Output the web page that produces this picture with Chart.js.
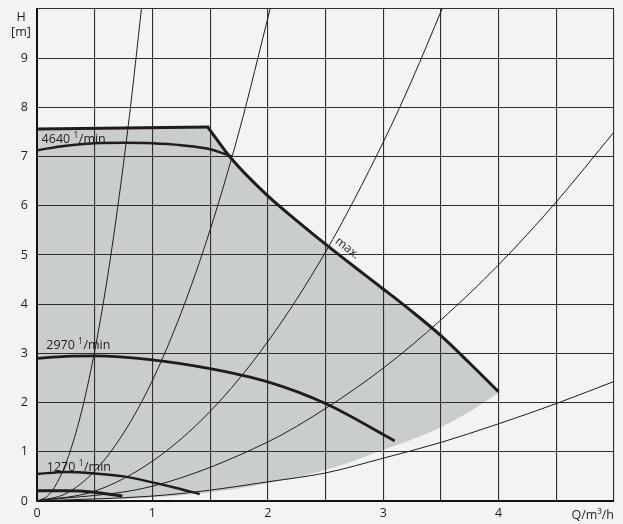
<!DOCTYPE html>
<html>
<head>
<meta charset="utf-8">
<script src="https://cdn.jsdelivr.net/npm/chart.js@4/dist/chart.umd.min.js"></script>
<style>
  html, body { margin: 0; padding: 0; background: #f2f3f3; }
  #c { display: block; background: #f2f3f3; }
</style>
</head>
<body>
<canvas id="c" width="623" height="524"></canvas>
<script>
/* Pumpenkennlinie H(Q) */

// Achsen
const qTicks = [0, 1, 2, 3, 4];
const hTicks = [0, 1, 2, 3, 4, 5, 6, 7, 8, 9];

// Grauer Bereich: Oberkante (max.) und Unterkante
const areaQ = [0, 0.5, 1.0, 1.48, 1.68, 2.0, 2.25, 2.5, 2.75, 3.0, 3.25, 3.5, 3.75, 4.0];
const areaTopH = [7.56, 7.57, 7.58, 7.6, 6.97, 6.2, 5.7, 5.22, 4.76, 4.31, 3.85, 3.36, 2.8, 2.22];
const areaLowH = [0, 0.02, 0.07, 0.17, 0.23, 0.36, 0.48, 0.63, 0.82, 1.04, 1.25, 1.5, 1.82, 2.2];

// max. Kennlinie: waagerechter Teil und abfallender Teil
const maxTopQ = [0, 1.48];
const maxTopH = [7.56, 7.6];
const maxFallQ = [1.48, 1.68, 2.0, 2.25, 2.5, 2.75, 3.0, 3.25, 3.5, 3.75, 4.0];
const maxFallH = [7.6, 6.97, 6.2, 5.7, 5.22, 4.76, 4.31, 3.85, 3.36, 2.8, 2.22];

// Drehzahlkurven
const n4640Q = [0, 0.25, 0.5, 0.75, 1.0, 1.25, 1.5, 1.69];
const n4640H = [7.13, 7.22, 7.27, 7.28, 7.27, 7.23, 7.15, 7.0];
const n2970Q = [0, 0.25, 0.5, 1.0, 1.5, 2.0, 2.5, 3.1];
const n2970H = [2.9, 2.94, 2.95, 2.87, 2.69, 2.42, 1.98, 1.22];
const n1270Q = [0, 0.25, 0.5, 0.75, 1.0, 1.2, 1.41];
const n1270H = [0.55, 0.59, 0.56, 0.5, 0.38, 0.27, 0.14];
const nMinQ = [0, 0.25, 0.5, 0.74];
const nMinH = [0.21, 0.21, 0.18, 0.1];

// Anlagenkennlinien (dünn)
const sys1Q = [0, 0.1, 0.2, 0.3, 0.4, 0.5, 0.6, 0.7, 0.8, 0.905];
const sys1H = [0, 0.12, 0.49, 1.1, 1.95, 3.05, 4.39, 5.98, 7.81, 10];
const sys2Q = [0, 0.25, 0.5, 0.75, 1.0, 1.25, 1.5, 1.75, 2.02];
const sys2H = [0, 0.15, 0.61, 1.38, 2.45, 3.83, 5.51, 7.5, 10];
const sys3Q = [0, 0.5, 1.0, 1.5, 2.0, 2.5, 3.0, 3.25, 3.51];
const sys3H = [0, 0.2, 0.81, 1.82, 3.24, 5.06, 7.29, 8.56, 10];
const sys4Q = [0, 1.0, 2.0, 2.5, 3.0, 3.5, 4.0, 4.5, 5.0];
const sys4H = [0, 0.3, 1.2, 1.88, 2.7, 3.68, 4.8, 6.08, 7.5];
const sys5Q = [0, 1.0, 1.5, 2.0, 2.5, 3.0, 3.5, 4.0, 4.5, 5.0];
const sys5H = [0, 0.1, 0.22, 0.39, 0.57, 0.87, 1.19, 1.57, 1.98, 2.43];

// Beschriftungen der Drehzahlkurven
const speedLabels = [
  { num: "4640", q: 0.04, h: 7.36 },
  { num: "2970", q: 0.08, h: 3.19 },
  { num: "1270", q: 0.085, h: 0.71 },
];

const INK = "#1e1c1d";
const FONT = "'Open Sans', 'DejaVu Sans', sans-serif";
const pts = (qs, hs) => qs.map((q, i) => ({ x: q, y: hs[i] }));

function curve(qs, hs, width) {
  return {
    data: pts(qs, hs), showLine: true, pointRadius: 0, fill: false,
    borderColor: INK, borderWidth: width, borderCapStyle: "butt",
    cubicInterpolationMode: "monotone",
  };
}

const datasets = [
  // Füllfläche: Oberkante bis Unterkante (Datensatz 1)
  { data: pts(areaQ, areaTopH), showLine: true, pointRadius: 0, tension: 0,
    borderWidth: 0, borderColor: "rgba(0,0,0,0)",
    backgroundColor: "#c9cdcd", fill: 1 },
  { data: pts(areaQ, areaLowH), showLine: true, pointRadius: 0, borderWidth: 0,
    borderColor: "rgba(0,0,0,0)", cubicInterpolationMode: "monotone", fill: false },
  { ...curve(maxTopQ, maxTopH, 3), tension: 0, cubicInterpolationMode: "default", borderCapStyle: "square" },
  curve(maxFallQ, maxFallH, 3),
  curve(n4640Q, n4640H, 2.4),
  curve(n2970Q, n2970H, 2.8),
  curve(n1270Q, n1270H, 2.4),
  curve(nMinQ, nMinH, 3),
  curve(sys1Q, sys1H, 1),
  curve(sys2Q, sys2H, 1),
  curve(sys3Q, sys3H, 1),
  curve(sys4Q, sys4H, 1),
  curve(sys5Q, sys5H, 1),
];

function drawSpeed(ctx, num, px, py) {
  ctx.textAlign = "left";
  ctx.textBaseline = "alphabetic";
  ctx.font = `12.5px ${FONT}`;
  const base = py + 4.5;
  ctx.fillText(num + " ", px, base);
  let w = ctx.measureText(num + " ").width;
  ctx.font = `8.5px ${FONT}`;
  ctx.fillText("1", px + w, base - 5);
  w += ctx.measureText("1").width + 0.5;
  ctx.font = `12.5px ${FONT}`;
  ctx.fillText("/min", px + w, base);
}

const texts = {
  id: "texts",
  afterDraw(chart) {
    const { ctx, chartArea: a, scales: { x, y } } = chart;
    ctx.save();
    ctx.fillStyle = INK;
    speedLabels.forEach(l => drawSpeed(ctx, l.num, x.getPixelForValue(l.q), y.getPixelForValue(l.h)));

    // max.
    ctx.save();
    ctx.translate(x.getPixelForValue(2.69), y.getPixelForValue(5.14));
    ctx.rotate(38 * Math.PI / 180);
    ctx.font = `12px ${FONT}`;
    ctx.textAlign = "center";
    ctx.textBaseline = "middle";
    ctx.fillText("max.", 0, 0);
    ctx.restore();

    // Achsentitel
    ctx.font = `12.5px ${FONT}`;
    ctx.textAlign = "center";
    ctx.textBaseline = "middle";
    ctx.fillText("H", a.left - 16, 17);
    ctx.fillText("[m]", a.left - 16, 32);
    ctx.textAlign = "right";
    ctx.fillText("Q/m³/h", a.right, a.bottom + 14);
    ctx.restore();
  }
};

new Chart(document.getElementById("c"), {
  type: "scatter",
  data: { datasets },
  options: {
    responsive: false,
    animation: false,
    events: [],
    layout: { padding: { top: 9, right: 9, left: 0, bottom: 0 } },
    plugins: {
      legend: { display: false },
      tooltip: { enabled: false },
      filler: { drawTime: "beforeDraw" },
    },
    scales: {
      x: {
        type: "linear", min: 0, max: 5,
        afterFit: s => { s.height = 23; s.paddingLeft = 0; s.paddingRight = 0; },
        ticks: {
          stepSize: 0.5, autoSkip: false, maxRotation: 0, padding: 5,
          color: INK, font: { family: FONT, size: 12.5 },
          callback: v => qTicks.includes(v) ? String(v) : "",
        },
        grid: { color: "#2e2e2e", lineWidth: 1.1, drawTicks: false },
        border: { color: "#111", width: 2 },
      },
      y: {
        type: "linear", min: 0, max: 10,
        afterFit: s => { s.width = 37; s.paddingTop = 0; s.paddingBottom = 0; },
        ticks: {
          stepSize: 1, autoSkip: false, padding: 9,
          color: INK, font: { family: FONT, size: 12.5 },
          callback: v => hTicks.includes(v) ? String(v) : "",
        },
        grid: { color: "#2e2e2e", lineWidth: 1.1, drawTicks: false },
        border: { color: "#111", width: 2 },
      },
    },
  },
  plugins: [texts],
});
</script>
</body>
</html>
